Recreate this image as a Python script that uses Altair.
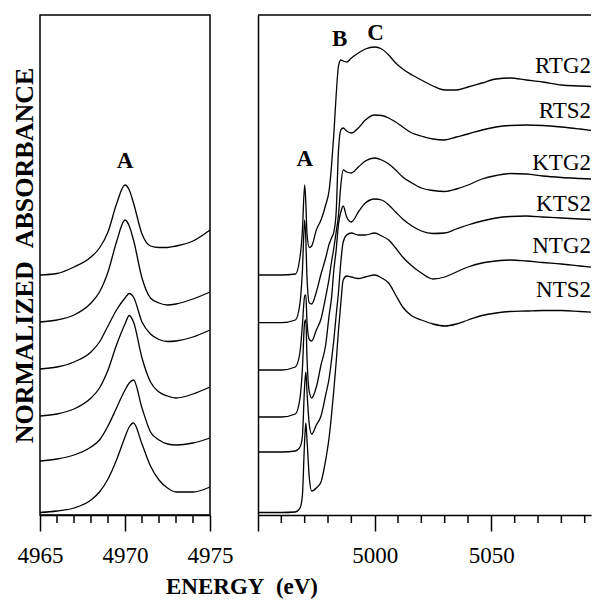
import altair as alt
import pandas as pd

FONT = "Liberation Serif"

# ---------------- data ----------------
SAMPLES = ["RTG2", "RTS2", "KTG2", "KTS2", "NTG2", "NTS2"]

# Left panel: pre-edge peak region (energy in eV)
E_LEFT = [4965, 4966, 4967, 4968, 4968.5, 4969, 4969.5, 4970, 4970.25, 4970.5,
          4971, 4971.5, 4972, 4972.5, 4973, 4974, 4975]
L_RTG2 = [2.40, 2.415, 2.48, 2.58, 2.67, 2.83, 3.11, 3.30, 3.25, 3.12, 2.81, 2.69, 2.675, 2.675, 2.69, 2.74, 2.85]
L_RTS2 = [1.93, 1.95, 2.00, 2.12, 2.23, 2.43, 2.73, 2.95, 2.89, 2.75, 2.37, 2.17, 2.12, 2.10, 2.11, 2.16, 2.23]
L_KTG2 = [1.46, 1.48, 1.53, 1.63, 1.73, 1.89, 2.05, 2.17, 2.215, 2.18, 1.93, 1.81, 1.755, 1.735, 1.74, 1.78, 1.85]
L_KTS2 = [0.99, 1.01, 1.06, 1.17, 1.27, 1.45, 1.70, 1.91, 1.995, 1.93, 1.57, 1.33, 1.23, 1.19, 1.17, 1.21, 1.28]
L_NTG2 = [0.54, 0.56, 0.60, 0.68, 0.75, 0.89, 1.07, 1.25, 1.32, 1.35, 1.07, 0.83, 0.75, 0.71, 0.70, 0.72, 0.77]
L_NTS2 = [0.025, 0.04, 0.07, 0.15, 0.23, 0.36, 0.55, 0.78, 0.88, 0.92, 0.71, 0.49, 0.35, 0.27, 0.23, 0.23, 0.28]

# Right panel: full XANES region
E_RIGHT = [4950, 4960, 4966, 4968, 4969, 4970, 4970.5, 4971, 4972, 4973, 4975, 4977, 4979,
           4980.5, 4981.5, 4982.5, 4983.5, 4984.5, 4985.5, 4986.5, 4988, 4990, 4993, 4996,
           5000, 5003, 5006, 5009, 5012, 5016, 5020, 5025, 5030, 5035, 5040, 5046, 5052,
           5058, 5065, 5072, 5080, 5088, 5097]
R_RTG2 = [2.40, 2.40, 2.41, 2.58, 2.83, 3.30, 3.12, 2.81, 2.675, 2.69, 2.85, 2.95, 3.10,
          3.25, 3.49, 3.81, 4.20, 4.49, 4.55, 4.54, 4.53, 4.57, 4.62, 4.66, 4.68, 4.66,
          4.60, 4.52, 4.46, 4.40, 4.35, 4.29, 4.25, 4.25, 4.28, 4.32, 4.36, 4.37, 4.35,
          4.33, 4.30, 4.29, 4.28]
R_RTS2 = [1.923, 1.923, 1.95, 2.12, 2.43, 2.95, 2.75, 2.37, 2.12, 2.11, 2.23, 2.41, 2.57,
          2.71, 2.77, 2.83, 3.03, 3.65, 3.85, 3.87, 3.84, 3.82, 3.87, 3.95, 4.00, 3.995,
          3.97, 3.93, 3.88, 3.82, 3.79, 3.76, 3.75, 3.78, 3.81, 3.85, 3.88, 3.895, 3.90,
          3.895, 3.88, 3.86, 3.835]
R_KTG2 = [1.45, 1.45, 1.48, 1.63, 1.89, 2.19, 2.20, 1.93, 1.755, 1.74, 1.85, 1.96, 2.18,
          2.37, 2.53, 2.67, 2.83, 3.00, 3.30, 3.45, 3.43, 3.42, 3.48, 3.54, 3.57, 3.55,
          3.51, 3.45, 3.38, 3.32, 3.27, 3.245, 3.235, 3.26, 3.30, 3.36, 3.395, 3.415, 3.41,
          3.39, 3.375, 3.365, 3.355]
R_KTS2 = [0.98, 0.98, 1.01, 1.17, 1.45, 1.93, 1.95, 1.57, 1.23, 1.17, 1.28, 1.50, 1.70,
          2.00, 2.17, 2.45, 2.65, 2.91, 3.03, 3.09, 2.98, 2.93, 3.03, 3.12, 3.16, 3.15,
          3.10, 3.03, 2.96, 2.89, 2.84, 2.815, 2.82, 2.86, 2.90, 2.94, 2.97, 2.985, 2.99,
          2.98, 2.97, 2.96, 2.95]
R_NTG2 = [0.63, 0.63, 0.64, 0.68, 0.78, 1.30, 1.43, 1.23, 0.90, 0.81, 0.90, 0.99, 1.20,
          1.37, 1.55, 1.75, 2.00, 2.23, 2.53, 2.73, 2.80, 2.82, 2.80, 2.80, 2.82, 2.79,
          2.75, 2.67, 2.58, 2.49, 2.42, 2.36, 2.38, 2.43, 2.48, 2.52, 2.54, 2.55, 2.54,
          2.525, 2.51, 2.49, 2.47]
R_NTS2 = [0.025, 0.025, 0.03, 0.07, 0.19, 0.75, 0.92, 0.75, 0.37, 0.24, 0.27, 0.33, 0.55,
          0.78, 1.00, 1.25, 1.53, 1.85, 2.12, 2.35, 2.39, 2.38, 2.365, 2.38, 2.40, 2.37,
          2.32, 2.20, 2.08, 1.99, 1.95, 1.91, 1.89, 1.91, 1.95, 1.995, 2.02, 2.035, 2.04,
          2.045, 2.045, 2.035, 2.023]

X_LEFT_DOMAIN = [4965, 4975]
X_RIGHT_DOMAIN = [4950, 5092.7]
Y_DOMAIN = [0, 5]

# sample labels at the right edge
LABEL_E = 5092.7
LABEL_V = [4.42, 3.97, 3.45, 3.04, 2.62, 2.18]

# peak letters
LEFT_LETTER = ["A"]
LEFT_LETTER_E = [4970.0]
LEFT_LETTER_V = [3.47]
RIGHT_LETTERS = ["A", "B", "C"]
RIGHT_LETTER_E = [4970.1, 4985.0, 5000.4]
RIGHT_LETTER_V = [3.49, 4.69, 4.75]

# ticks
MAJOR_LEFT = [4965, 4970, 4975]
MINOR_LEFT = [4966, 4967, 4968, 4969, 4971, 4972, 4973, 4974]
MAJOR_RIGHT = [4950, 5000, 5050]
MINOR_RIGHT = [4960, 4970, 4980, 4990, 5010, 5020, 5030, 5040, 5060, 5070, 5080, 5090]

# ---------------- tables ----------------
left_series = [L_RTG2, L_RTS2, L_KTG2, L_KTS2, L_NTG2, L_NTS2]
right_series = [R_RTG2, R_RTS2, R_KTG2, R_KTS2, R_NTG2, R_NTS2]

left_df = pd.DataFrame(
    [{"sample": s, "E": e, "v": v} for s, vals in zip(SAMPLES, left_series) for e, v in zip(E_LEFT, vals)]
)
right_df = pd.DataFrame(
    [{"sample": s, "E": e, "v": v} for s, vals in zip(SAMPLES, right_series) for e, v in zip(E_RIGHT, vals)]
)
lab_df = pd.DataFrame({"E": [LABEL_E] * len(SAMPLES), "v": LABEL_V, "t": SAMPLES})
lletter_df = pd.DataFrame({"E": LEFT_LETTER_E, "v": LEFT_LETTER_V, "t": LEFT_LETTER})
rletter_df = pd.DataFrame({"E": RIGHT_LETTER_E, "v": RIGHT_LETTER_V, "t": RIGHT_LETTERS})
lminor_df = pd.DataFrame({"E": MINOR_LEFT})
rminor_df = pd.DataFrame({"E": MINOR_RIGHT})

W_L, W_R, H = 170, 333, 500

# ---------------- encodings ----------------
x_left = alt.X(
    "E:Q",
    scale=alt.Scale(domain=X_LEFT_DOMAIN, nice=False, zero=False),
    axis=alt.Axis(
        values=MAJOR_LEFT, format="d", grid=False,
        tickSize=16, tickWidth=1.5, tickColor="black",
        domainColor="black", domainWidth=1.5,
        labelFont=FONT, labelFontSize=23, labelColor="black", labelPadding=13,
        labelFlush=False, labelOverlap=False,
        title="ENERGY\u00a0\u00a0(eV)", titleFont=FONT, titleFontSize=23, titleFontWeight="bold",
        titleColor="black", titleX=201.5, titleY=60, titleAlign="center", titleBaseline="top",
    ),
)
y_left = alt.Y(
    "v:Q",
    scale=alt.Scale(domain=Y_DOMAIN, nice=False, zero=False),
    axis=alt.Axis(
        labels=False, ticks=False, domain=False, grid=False,
        title="NORMALIZED\u00a0\u00a0ABSORBANCE", titleFont=FONT, titleFontSize=26,
        titleFontWeight="bold", titleColor="black", titlePadding=3, titleY=240,
    ),
)
x_right = alt.X(
    "E:Q",
    scale=alt.Scale(domain=X_RIGHT_DOMAIN, nice=False, zero=False),
    axis=alt.Axis(
        values=MAJOR_RIGHT, format="d", grid=False,
        labelExpr="datum.value == 4950 ? '' : datum.label",
        tickSize=16, tickWidth=1.5, tickColor="black",
        domainColor="black", domainWidth=1.5,
        labelFont=FONT, labelFontSize=23, labelColor="black", labelPadding=13,
        labelFlush=False, labelOverlap=False, title=None,
    ),
)
y_right = alt.Y(
    "v:Q",
    scale=alt.Scale(domain=Y_DOMAIN, nice=False, zero=False),
    axis=alt.Axis(labels=False, ticks=False, grid=False, domain=True,
                  domainColor="black", domainWidth=1.5, title=None),
)

line_kw = dict(color="black", strokeWidth=1.3, interpolate="monotone")

# ---------------- left panel ----------------
left_lines = alt.Chart(left_df).mark_line(**line_kw).encode(
    x=x_left, y=y_left, detail="sample:N"
)
left_minor = alt.Chart(lminor_df).mark_rule(color="black", strokeWidth=1.5).encode(
    x=x_left, y=alt.value(H), y2=alt.value(H + 8)
)
left_text = alt.Chart(lletter_df).mark_text(
    font=FONT, fontSize=23, fontWeight="bold", align="center", baseline="alphabetic", color="black"
).encode(x=x_left, y=y_left, text="t:N")

left = alt.layer(left_lines, left_minor, left_text).properties(
    width=W_L, height=H, view=alt.ViewBackground(stroke="black", strokeWidth=1.5)
)

# ---------------- right panel ----------------
right_lines = alt.Chart(right_df).mark_line(clip=True, **line_kw).encode(
    x=x_right, y=y_right, detail="sample:N"
)
right_minor = alt.Chart(rminor_df).mark_rule(color="black", strokeWidth=1.5).encode(
    x=x_right, y=alt.value(H), y2=alt.value(H + 8)
)
right_top = alt.Chart(pd.DataFrame({"k": [0]})).mark_rule(color="black", strokeWidth=1.5).encode(
    x=alt.value(0), x2=alt.value(W_R), y=alt.value(0)
)
right_labels = alt.Chart(lab_df).mark_text(
    font=FONT, fontSize=23, align="right", baseline="alphabetic", color="black", clip=True
).encode(x=x_right, y=y_right, text="t:N")
right_letters = alt.Chart(rletter_df).mark_text(
    font=FONT, fontSize=23, fontWeight="bold", align="center", baseline="alphabetic", color="black"
).encode(x=x_right, y=y_right, text="t:N")

right = alt.layer(right_lines, right_minor, right_top, right_labels, right_letters).properties(
    width=W_R, height=H, view=alt.ViewBackground(stroke=None)
)

chart = (
    alt.hconcat(left, right, spacing=48, bounds="flush")
    .properties(padding={"left": 2, "top": 6, "right": 0, "bottom": 0}, background="white")
    .configure_view(stroke=None)
)

chart.save("out.html", embed_options={"renderer": "svg", "actions": False})
